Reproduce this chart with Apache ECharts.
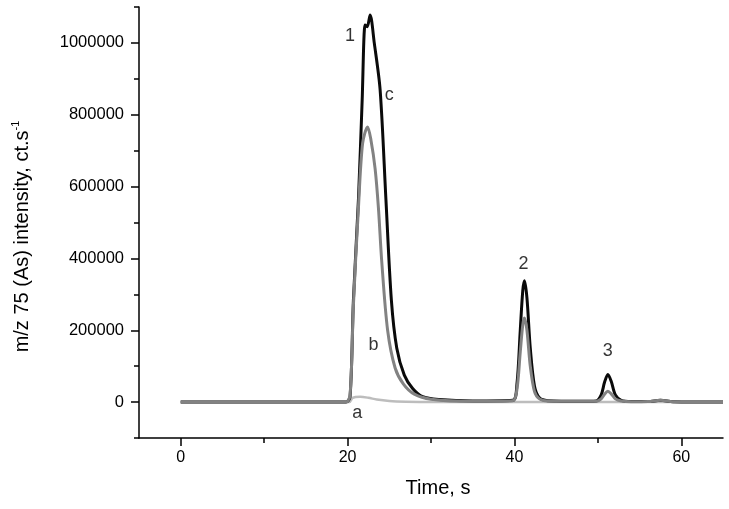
<!DOCTYPE html>
<html>
<head>
<meta charset="utf-8">
<script src="https://cdn.jsdelivr.net/npm/echarts@6/dist/echarts.min.js"></script>
<style>
  html, body { margin: 0; padding: 0; background: #fff; }
  #chart { width: 729px; height: 509px; }
</style>
</head>
<body>
<div id="chart"></div>
<script>
/* chromatogram: m/z 75 (As) intensity vs time, traces a, b, c */
var timeA = [0, 10, 20.2, 20.6, 21.5, 22.5, 23.5, 25, 27, 30, 40, 50, 60, 65];
var valA  = [0, 0, 0, 12000, 15000, 12000, 7000, 3000, 1000, 0, 0, 0, 0, 0];

var timeB = [0, 10, 19.8, 20.3, 20.7, 21.3, 21.8, 22.4, 22.8, 23.3, 23.7, 24.1, 24.8, 25.7, 26.7, 28, 30, 35,
             39.8, 40.3, 40.7, 41.0, 41.2, 41.5, 41.9, 42.4, 43, 44, 49.8, 50.4, 50.8, 51.2, 51.6, 52.1, 52.8, 54, 56, 57.5, 59, 65];
var valB  = [0, 0, 0, 20000, 270000, 540000, 720000, 766000, 730000, 650000, 540000, 390000, 200000, 95000, 50000, 22000, 8000, 2000,
             4000, 35000, 140000, 215000, 234000, 200000, 100000, 30000, 9000, 3000, 2000, 9000, 22000, 30000, 23000, 9000, 3000, 1000, 1500, 5000, 1000, 0];

var timeC = [0, 10, 19.8, 20.3, 20.7, 21.3, 21.75, 22.1, 22.35, 22.7, 23.2, 23.9, 24.6, 25.25, 25.9, 26.8, 27.8, 29, 31, 35,
             39.8, 40.3, 40.7, 41.0, 41.2, 41.5, 41.9, 42.4, 43, 44, 48, 49.8, 50.4, 50.8, 51.2, 51.6, 52.1, 52.8, 54, 56, 57.5, 59, 65];
var valC  = [0, 0, 0, 15000, 284000, 563000, 841000, 1050000, 1045000, 1078000, 1000000, 870000, 563000, 284000, 150000, 75000, 38000, 15000, 7000, 3000,
             5000, 50000, 200000, 310000, 338000, 290000, 150000, 45000, 12000, 4000, 2000, 3000, 20000, 55000, 77000, 58000, 20000, 5000, 1500, 1500, 5000, 1000, 0];

// peak / trace annotations
var noteText = ['1', 'c', 'b', 'a', '2', '3'];
var noteTime = [20.3, 25.0, 23.1, 21.15, 41.1, 51.2];
var noteVal  = [1020000, 855000, 159000, -31000, 384000, 142000];

var xMajor = [0, 20, 40, 60];
var xMinor = [10, 30, 50];
var yMajor = [0, 200000, 400000, 600000, 800000, 1000000];
var yMinor = [-100000, 100000, 300000, 500000, 700000, 900000, 1100000];

function pairs(t, v) {
  var out = [];
  for (var i = 0; i < t.length; i++) out.push([t[i], v[i]]);
  return out;
}

var font = '"Liberation Sans", Arial, sans-serif';
var chart = echarts.init(document.getElementById('chart'));

var xBase = { type: 'value', min: -5, max: 65, splitLine: { show: false } };
var yBase = { type: 'value', min: -100000, max: 1100000, splitLine: { show: false } };
var tickLine = { color: '#000', width: 1.5 };

chart.setOption({
  animation: false,
  backgroundColor: '#fff',
  grid: { left: 139, right: 6, top: 7, bottom: 71 },
  xAxis: [
    Object.assign({}, xBase, {
      name: 'Time, s', nameLocation: 'middle', nameGap: 40,
      nameTextStyle: { color: '#000', fontSize: 20, fontFamily: font, padding: [0, 0, 0, 14] },
      axisLine: { onZero: false, lineStyle: { color: '#000', width: 1.5 } },
      axisTick: { customValues: xMajor, length: 8, lineStyle: tickLine },
      axisLabel: { customValues: xMajor, color: '#000', fontSize: 16, fontFamily: font, margin: 12 }
    }),
    Object.assign({}, xBase, {
      position: 'bottom',
      axisLine: { show: false, onZero: false },
      axisTick: { customValues: xMinor, length: 5, lineStyle: tickLine },
      axisLabel: { show: false }
    })
  ],
  yAxis: [
    Object.assign({}, yBase, {
      name: 'm/z 75 (As) intensity, ct.s{sup|-1}', nameLocation: 'middle', nameGap: 105,
      nameTextStyle: {
        color: '#000', fontSize: 20, fontFamily: font, lineHeight: 24, padding: [0, 28, 0, 0],
        rich: { sup: { fontSize: 11, fontFamily: font, color: '#000', verticalAlign: 'top', lineHeight: 12 } }
      },
      axisLine: { onZero: false, lineStyle: { color: '#000', width: 1.5 } },
      axisTick: { customValues: yMajor, length: 8, lineStyle: tickLine },
      axisLabel: { customValues: yMajor, color: '#000', fontSize: 16.5, fontFamily: font, margin: 15,
        formatter: function (v) { return String(v); } }
    }),
    Object.assign({}, yBase, {
      position: 'left',
      axisLine: { show: false, onZero: false },
      axisTick: { customValues: yMinor, length: 5, lineStyle: tickLine },
      axisLabel: { show: false }
    })
  ],
  series: [
    { name: 'a', type: 'line', data: pairs(timeA, valA), showSymbol: false, smooth: 0.3,
      lineStyle: { color: '#bdbdbd', width: 2.5 } },
    { name: 'c', type: 'line', data: pairs(timeC, valC), showSymbol: false, smooth: 0.3,
      lineStyle: { color: '#0a0a0a', width: 3 } },
    { name: 'b', type: 'line', data: pairs(timeB, valB), showSymbol: false, smooth: 0.3,
      lineStyle: { color: '#828282', width: 3 } },
    { name: 'notes', type: 'scatter', symbolSize: 0, silent: true,
      data: noteText.map(function (t, i) { return { value: [noteTime[i], noteVal[i]], name: t }; }),
      label: { show: true, position: 'inside', formatter: '{b}', color: '#000', fontSize: 18, fontFamily: font } }
  ]
});
</script>
</body>
</html>
